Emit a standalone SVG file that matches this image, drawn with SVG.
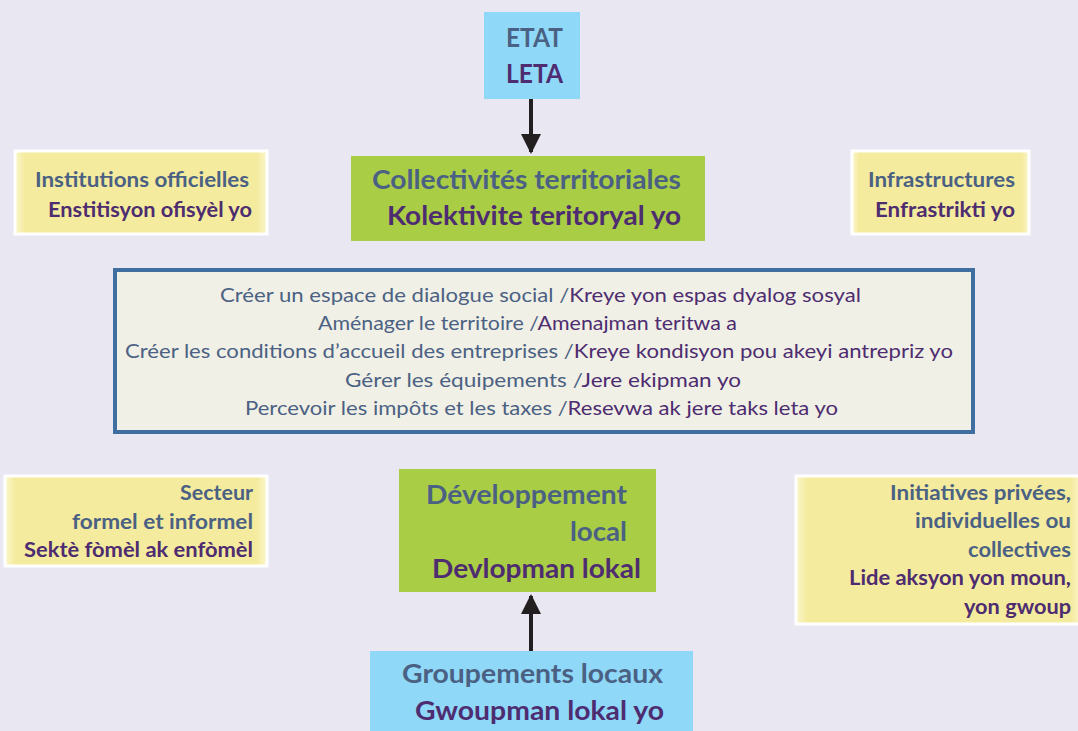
<svg xmlns="http://www.w3.org/2000/svg" width="1078" height="731" viewBox="0 0 1078 731">
<style>
.t{font-family:Lato,"Liberation Sans",sans-serif;font-weight:bold;}
.r{font-family:Lato,"Liberation Sans",sans-serif;font-weight:normal;font-size:20px;}
.s{fill:#4b6183;}
.p{fill:#4e2c70;}
.blue{fill:#8fd8f8;}
.green{fill:#aacd46;}
.ybox{fill:url(#yg);stroke:#ffffff;stroke-width:3;}
.conn{stroke:#231f20;stroke-width:4;fill:none;}
</style>
<defs>
<linearGradient id="yg" x1="0" y1="0" x2="1" y2="0">
<stop offset="0" stop-color="#fbf6cc"/>
<stop offset="0.04" stop-color="#f4eb9e"/>
<stop offset="0.96" stop-color="#f4eb9e"/>
<stop offset="1" stop-color="#fbf6cc"/>
</linearGradient>
<marker id="ah" viewBox="0 0 10 10" refX="9" refY="5" markerWidth="5" markerHeight="5" markerUnits="strokeWidth" orient="auto">
<path d="M0,0 L10,5 L0,10 z" fill="#231f20"/>
</marker>
</defs>
<rect width="1078" height="731" fill="#e9e7f2"/>
<g id="connectors">
<line class="conn" x1="531" y1="99" x2="531" y2="152" marker-end="url(#ah)"/>
<line class="conn" x1="531" y1="651" x2="531" y2="596" marker-end="url(#ah)"/>
</g>
<g id="etat">
<rect class="blue" x="484" y="12" width="96" height="87"/>
<text class="t s" x="506" y="47" font-size="26" textLength="57" lengthAdjust="spacingAndGlyphs">ETAT</text>
<text class="t p" x="506" y="83" font-size="26" textLength="57" lengthAdjust="spacingAndGlyphs">LETA</text>
</g>
<g id="collectivites">
<rect class="green" x="351" y="156" width="354" height="85"/>
<text class="t s" x="372" y="189" font-size="27" textLength="309" lengthAdjust="spacingAndGlyphs">Collectivités territoriales</text>
<text class="t p" x="387" y="225" font-size="27" textLength="294" lengthAdjust="spacingAndGlyphs">Kolektivite teritoryal yo</text>
</g>
<g id="institutions">
<rect class="ybox" x="15" y="151" width="252" height="83"/>
<text class="t s" x="35" y="187" font-size="20" textLength="214" lengthAdjust="spacingAndGlyphs">Institutions officielles</text>
<text class="t p" x="48" y="217" font-size="20" textLength="204" lengthAdjust="spacingAndGlyphs">Enstitisyon ofisyèl yo</text>
</g>
<g id="infrastructures">
<rect class="ybox" x="852" y="151" width="177" height="83"/>
<text class="t s" x="868" y="187" font-size="20" textLength="147" lengthAdjust="spacingAndGlyphs">Infrastructures</text>
<text class="t p" x="875" y="217" font-size="20" textLength="140" lengthAdjust="spacingAndGlyphs">Enfrastrikti yo</text>
</g>
<g id="roles">
<rect x="115" y="270" width="858" height="162" fill="#f0f0e6" stroke="#3f6fa0" stroke-width="4"/>
<text class="r" x="220" y="302" textLength="641" lengthAdjust="spacingAndGlyphs"><tspan class="s">Créer un espace de dialogue social /</tspan><tspan class="p">Kreye yon espas dyalog sosyal</tspan></text>
<text class="r" x="318" y="330" textLength="419" lengthAdjust="spacingAndGlyphs"><tspan class="s">Aménager le territoire /</tspan><tspan class="p">Amenajman teritwa a</tspan></text>
<text class="r" x="125" y="358" textLength="828" lengthAdjust="spacingAndGlyphs"><tspan class="s">Créer les conditions d’accueil des entreprises /</tspan><tspan class="p">Kreye kondisyon pou akeyi antrepriz yo</tspan></text>
<text class="r" x="345" y="387" textLength="396" lengthAdjust="spacingAndGlyphs"><tspan class="s">Gérer les équipements /</tspan><tspan class="p">Jere ekipman yo</tspan></text>
<text class="r" x="245" y="415" textLength="593" lengthAdjust="spacingAndGlyphs"><tspan class="s">Percevoir les impôts et les taxes /</tspan><tspan class="p">Resevwa ak jere taks leta yo</tspan></text>
</g>
<g id="secteur">
<rect class="ybox" x="5" y="476" width="262" height="90"/>
<text class="t s" x="180" y="500" font-size="20" textLength="73" lengthAdjust="spacingAndGlyphs">Secteur</text>
<text class="t s" x="72" y="529" font-size="20" textLength="181" lengthAdjust="spacingAndGlyphs">formel et informel</text>
<text class="t p" x="24" y="557" font-size="20" textLength="229" lengthAdjust="spacingAndGlyphs">Sektè fòmèl ak enfòmèl</text>
</g>
<g id="initiatives">
<rect class="ybox" x="796" y="476" width="286" height="148"/>
<text class="t s" x="890" y="500" font-size="20" textLength="181" lengthAdjust="spacingAndGlyphs">Initiatives privées,</text>
<text class="t s" x="915" y="528" font-size="20" textLength="156" lengthAdjust="spacingAndGlyphs">individuelles ou</text>
<text class="t s" x="968" y="557" font-size="20" textLength="103" lengthAdjust="spacingAndGlyphs">collectives</text>
<text class="t p" x="849" y="585" font-size="20" textLength="222" lengthAdjust="spacingAndGlyphs">Lide aksyon yon moun,</text>
<text class="t p" x="964" y="614" font-size="20" textLength="107" lengthAdjust="spacingAndGlyphs">yon gwoup</text>
</g>
<g id="developpement">
<rect class="green" x="399" y="469" width="257" height="123"/>
<text class="t s" x="426" y="504" font-size="27" textLength="201" lengthAdjust="spacingAndGlyphs">Développement</text>
<text class="t s" x="570" y="541" font-size="27" textLength="57" lengthAdjust="spacingAndGlyphs">local</text>
<text class="t p" x="432" y="578" font-size="27" textLength="209" lengthAdjust="spacingAndGlyphs">Devlopman lokal</text>
</g>
<g id="groupements">
<rect class="blue" x="370" y="651" width="323" height="80"/>
<text class="t s" x="402" y="683" font-size="27" textLength="261" lengthAdjust="spacingAndGlyphs">Groupements locaux</text>
<text class="t p" x="415" y="720" font-size="27" textLength="249" lengthAdjust="spacingAndGlyphs">Gwoupman lokal yo</text>
</g>
</svg>
